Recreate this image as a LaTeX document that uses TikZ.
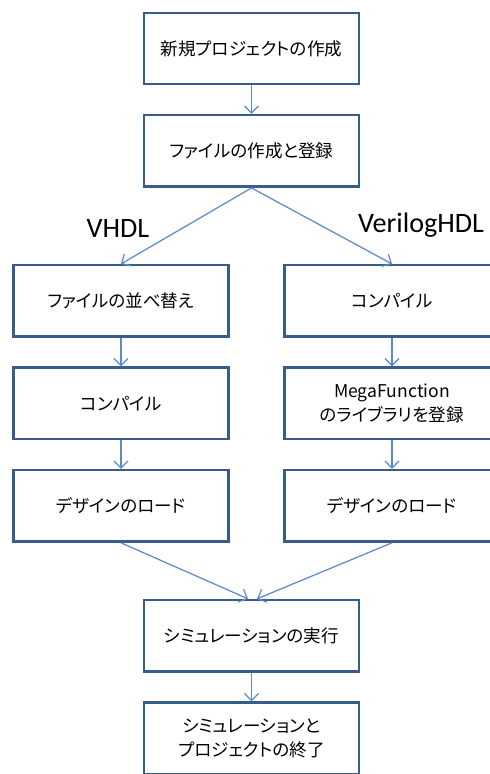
\documentclass[tikz,border=0pt]{standalone}
\usepackage{fontspec}
\setmainfont{Carlito}
\newfontfamily\jp[RawFeature=+palt]{Noto Sans CJK JP}
\usetikzlibrary{positioning,arrows.meta}
\definecolor{boxline}{HTML}{385D8A}
\definecolor{flowline}{HTML}{5B8BC8}
\tikzset{proc/.style={rectangle,draw=boxline,line width=1.4pt,minimum width=4.3cm,minimum height=1.43cm,
		align=center,inner sep=0pt,font=\jp\fontsize{10}{14}\selectfont},
	 flow/.style={draw=flowline,line width=0.7pt,-{Straight Barb[length=4pt,width=8pt]}},
	 lang/.style={inner sep=0pt,font=\fontsize{16}{16}\selectfont},
	 node distance = 0.57cm
	 }

\begin{document}
\begin{tikzpicture} % simulation flow
	\useasboundingbox (0,0) rectangle (9.78,-15.48);
	\node[proc] (new) at (5.03,-0.97) {新規プロジェクトの作成};
	\node[proc] (reg) [below=of new] {ファイルの作成と登録};
	% VHDL side
	\node[proc] (vh1) [below=1.52cm of reg, xshift=-2.61cm] {ファイルの並べ替え};
	\node[proc] (vh2) [below=of vh1] {コンパイル};
	\node[proc] (vh3) [below=of vh2] {デザインのロード};
	% Verilog side
	\node[proc] (vl1) [below=1.52cm of reg, xshift=2.81cm] {コンパイル};
	\node[proc] (vl2) [below=of vl1] {MegaFunction\\のライブラリを登録};
	\node[proc] (vl3) [below=of vl2] {デザインのロード};
	\node[proc] (sim) [below=1.12cm of vh3, xshift=2.61cm] {シミュレーションの実行};
	\node[proc] (fin) [below=of sim] {シミュレーションと\\プロジェクトの終了};
	\node[lang] (lvh) [above=0.52cm of vh1, xshift=-0.06cm] {VHDL};
	\node[lang] (lvl) [above=0.52cm of vl1, xshift=0.58cm] {VerilogHDL};
	\coordinate (simL) at ([xshift=-0.07cm]sim.north);
	\coordinate (simR) at ([xshift=0.11cm]sim.north);
	\draw[flow] (new) -- (reg);
	\draw[flow] (reg.south) -- (vh1.north);
	\draw[flow] (reg.south) -- (vl1.north);
	\draw[flow] (vh1) -- (vh2);
	\draw[flow] (vh2) -- (vh3);
	\draw[flow] (vl1) -- (vl2);
	\draw[flow] (vl2) -- (vl3);
	\draw[flow] (vh3.south) -- (simL);
	\draw[flow] (vl3.south) -- (simR);
	\draw[flow] (sim) -- (fin);
\end{tikzpicture}
\end{document}
